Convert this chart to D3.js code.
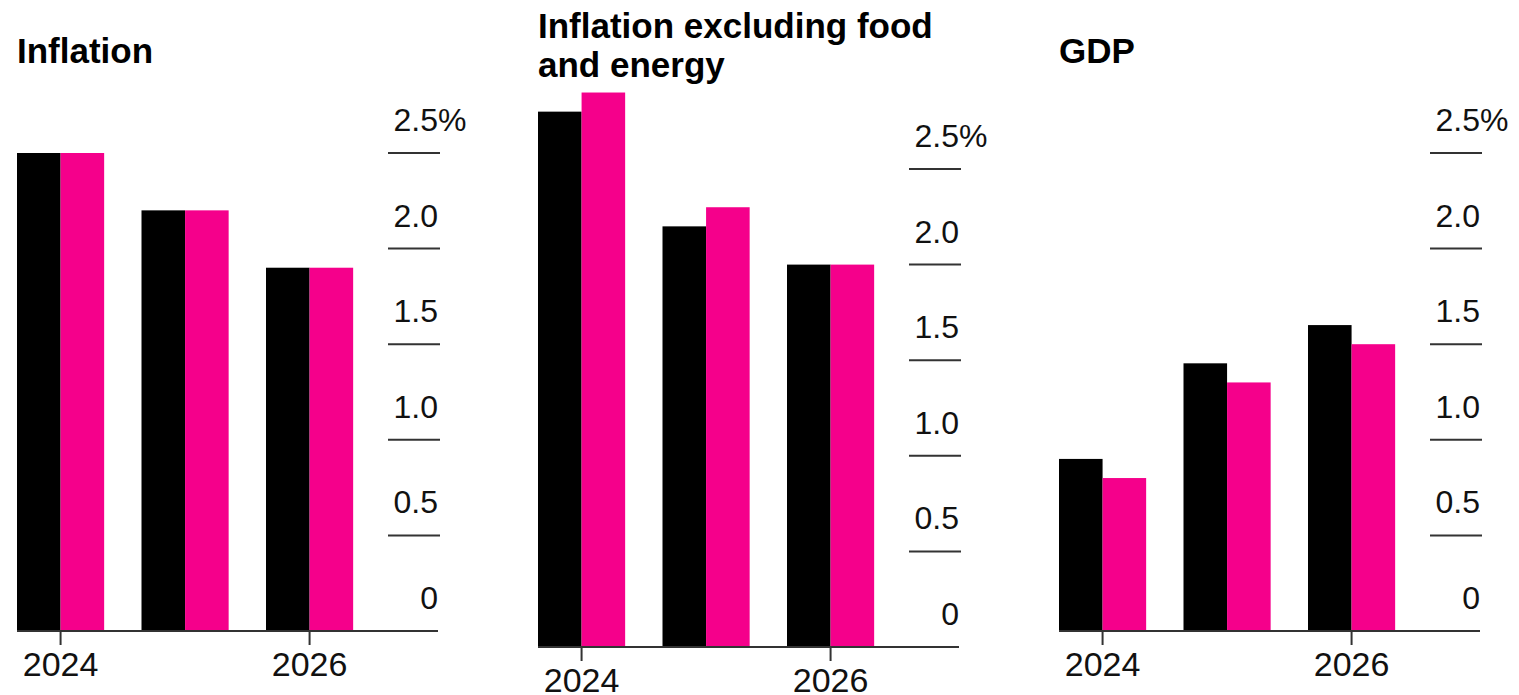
<!DOCTYPE html>
<html>
<head>
<meta charset="utf-8">
<script src="https://cdn.jsdelivr.net/npm/d3@7/dist/d3.min.js"></script>
<style>
  html, body { margin: 0; padding: 0; background: #fff; }
  svg { display: block; }
  text { font-family: "Liberation Sans", Arial, sans-serif; fill: #111; }
</style>
</head>
<body>
<svg id="chart" width="1519" height="695"></svg>
<script>
// ---- Data ----
const years = [2024, 2025, 2026];
const seriesKeys = ["black", "pink"];
const yTicks = [0, 0.5, 1.0, 1.5, 2.0, 2.5];
const xTickYears = [2024, 2026];

const inflationBlack = [2.5, 2.2, 1.9];
const inflationPink  = [2.5, 2.2, 1.9];
const coreBlack = [2.8, 2.2, 2.0];
const corePink  = [2.9, 2.3, 2.0];
const gdpBlack = [0.9, 1.4, 1.6];
const gdpPink  = [0.8, 1.3, 1.5];

const panelTitles = [["Inflation"], ["Inflation excluding food", "and energy"], ["GDP"]];
const panelSeries = [
  [inflationBlack, inflationPink],
  [coreBlack, corePink],
  [gdpBlack, gdpPink]
];

// ---- Layout ----
const colors = { black: "#000000", pink: "#f5008b" };
const layout = [
  { x0: 17,   baseY: 631, topY: 153, titleY: [63] },
  { x0: 538,  baseY: 647, topY: 169, titleY: [38, 77] },
  { x0: 1059, baseY: 631, topY: 153, titleY: [63] }
];
const step = 124.5;
const padInner = 0.3;

const svg = d3.select("#chart");

panelTitles.forEach((titleLines, pi) => {
  const L = layout[pi];
  const g = svg.append("g");

  const x = d3.scaleBand()
    .domain(years)
    .range([L.x0, L.x0 + step * (years.length - padInner)])
    .paddingInner(padInner)
    .paddingOuter(0);
  const xs = d3.scaleBand().domain(seriesKeys).range([0, x.bandwidth()]);
  const y = d3.scaleLinear().domain([0, 2.5]).range([L.baseY, L.topY]);

  const gridX1 = L.x0 + 371, gridX2 = L.x0 + 423;

  // Title
  const t = g.append("text")
    .attr("x", L.x0)
    .style("font-weight", "bold")
    .style("font-size", "35px")
    .style("fill", "#000");
  titleLines.forEach((line, li) => {
    t.append("tspan").attr("x", L.x0).attr("y", L.titleY[li]).text(line);
  });

  // Gridline stubs + labels on the right
  const grid = g.append("g");
  grid.selectAll("line.grid")
    .data(yTicks.filter(d => d > 0))
    .join("line")
    .attr("class", "grid")
    .attr("x1", gridX1).attr("x2", gridX2)
    .attr("y1", d => y(d)).attr("y2", d => y(d))
    .attr("stroke", "#333").attr("stroke-width", 2);

  const labels = grid.selectAll("g.lab")
    .data(yTicks)
    .join("g").attr("class", "lab");
  labels.append("text")
    .attr("x", gridX2 - 2)
    .attr("y", d => y(d) - 22)
    .attr("text-anchor", "end")
    .style("font-size", "32px")
    .text(d => d === 0 ? "0" : d.toFixed(1));
  labels.filter(d => d === 2.5).append("text")
    .attr("x", gridX2 - 2)
    .attr("y", d => y(d) - 22)
    .attr("text-anchor", "start")
    .style("font-size", "32px")
    .text("%");

  // Bars
  const series = panelSeries[pi];
  const rows = years.map((yr, i) => ({ year: yr, vals: seriesKeys.map((k, si) => ({ key: k, v: series[si][i] })) }));
  const groups = g.selectAll("g.year")
    .data(rows)
    .join("g").attr("class", "year")
    .attr("transform", d => `translate(${x(d.year)},0)`);
  groups.selectAll("rect")
    .data(d => d.vals)
    .join("rect")
    .attr("x", d => xs(d.key))
    .attr("width", xs.bandwidth())
    .attr("y", d => y(d.v))
    .attr("height", d => y(0) - y(d.v))
    .attr("fill", d => colors[d.key]);

  // Baseline
  g.append("line")
    .attr("x1", L.x0).attr("x2", L.x0 + 421)
    .attr("y1", y(0)).attr("y2", y(0))
    .attr("stroke", "#333").attr("stroke-width", 2);

  // X axis ticks + labels
  const ax = g.append("g")
    .attr("transform", `translate(0,${y(0)})`)
    .call(d3.axisBottom(x).tickValues(xTickYears).tickSize(14).tickSizeOuter(0).tickPadding(10));
  ax.select(".domain").remove();
  ax.selectAll(".tick line").attr("stroke", "#333").attr("stroke-width", 2);
  ax.selectAll(".tick text")
    .attr("dy", null)
    .attr("y", 45)
    .style("font-size", "34px")
    .style("font-family", "'Liberation Sans', Arial, sans-serif")
    .attr("fill", "#111");
});
</script>
</body>
</html>
